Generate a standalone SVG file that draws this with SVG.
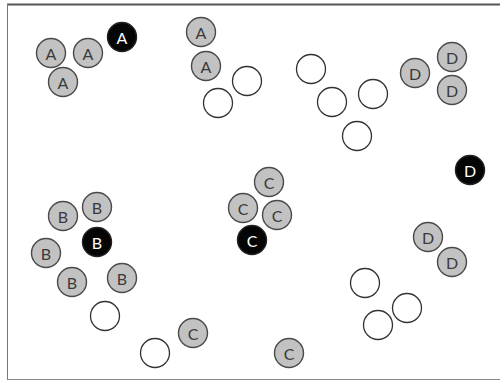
<svg xmlns="http://www.w3.org/2000/svg" width="500" height="381" viewBox="0 0 500 381">
<style>
.g{fill:#c2c2c2;stroke:#4a4a4a;stroke-width:1.4}
.b{fill:#050505;stroke:#222;stroke-width:1.4}
.w{fill:#fff;stroke:#333;stroke-width:1.3}
.t{font-family:Lato,"Open Sans","Liberation Sans",sans-serif;font-size:16px;text-anchor:middle;dominant-baseline:central;fill:#3a3a3a}
.tb{font-family:Lato,"Open Sans","Liberation Sans",sans-serif;font-size:16px;text-anchor:middle;dominant-baseline:central;fill:#fff}
</style>
<rect width="500" height="381" fill="#fff"/>
<g id="frame" fill="none">
<line x1="7" y1="4.5" x2="500" y2="4.5" stroke="#555" stroke-width="2"/>
<line x1="7.5" y1="4" x2="7.5" y2="380" stroke="#777" stroke-width="1"/>
<line x1="7" y1="379.5" x2="500" y2="379.5" stroke="#888" stroke-width="1.2"/>
</g>
<g id="connectors"></g>
<g id="nA1"><circle class="b" cx="122" cy="37" r="14.5"/><text class="tb" x="122" y="37">A</text></g>
<g id="nA2"><circle class="g" cx="51" cy="53" r="14.5"/><text class="t" x="51" y="53">A</text></g>
<g id="nA3"><circle class="g" cx="88" cy="53" r="14.5"/><text class="t" x="88" y="53">A</text></g>
<g id="nA4"><circle class="g" cx="63" cy="82" r="14.5"/><text class="t" x="63" y="82">A</text></g>
<g id="nA5"><circle class="g" cx="201" cy="32" r="14.5"/><text class="t" x="201" y="32">A</text></g>
<g id="nA6"><circle class="g" cx="206" cy="66" r="14.5"/><text class="t" x="206" y="66">A</text></g>
<g id="w1"><circle class="w" cx="247" cy="81" r="14.5"/></g>
<g id="w2"><circle class="w" cx="218" cy="103" r="14.5"/></g>
<g id="w3"><circle class="w" cx="311" cy="69" r="14.5"/></g>
<g id="w4"><circle class="w" cx="332" cy="102" r="14.5"/></g>
<g id="w5"><circle class="w" cx="373" cy="94" r="14.5"/></g>
<g id="w6"><circle class="w" cx="357" cy="136" r="14.5"/></g>
<g id="nD1"><circle class="g" cx="415" cy="73" r="14.5"/><text class="t" x="415" y="73">D</text></g>
<g id="nD2"><circle class="g" cx="452" cy="57" r="14.5"/><text class="t" x="452" y="57">D</text></g>
<g id="nD3"><circle class="g" cx="452" cy="90" r="14.5"/><text class="t" x="452" y="90">D</text></g>
<g id="nD4"><circle class="b" cx="470" cy="170" r="14.5"/><text class="tb" x="470" y="170">D</text></g>
<g id="nC1"><circle class="g" cx="269" cy="182" r="14.5"/><text class="t" x="269" y="182">C</text></g>
<g id="nC2"><circle class="g" cx="243" cy="208" r="14.5"/><text class="t" x="243" y="208">C</text></g>
<g id="nC3"><circle class="g" cx="277" cy="215" r="14.5"/><text class="t" x="277" y="215">C</text></g>
<g id="nC4"><circle class="b" cx="252" cy="240" r="14.5"/><text class="tb" x="252" y="240">C</text></g>
<g id="nB1"><circle class="g" cx="63" cy="216" r="14.5"/><text class="t" x="63" y="216">B</text></g>
<g id="nB2"><circle class="g" cx="97" cy="207" r="14.5"/><text class="t" x="97" y="207">B</text></g>
<g id="nB3"><circle class="b" cx="97" cy="242" r="14.5"/><text class="tb" x="97" y="242">B</text></g>
<g id="nB4"><circle class="g" cx="46" cy="253" r="14.5"/><text class="t" x="46" y="253">B</text></g>
<g id="nB5"><circle class="g" cx="72" cy="282" r="14.5"/><text class="t" x="72" y="282">B</text></g>
<g id="nB6"><circle class="g" cx="122" cy="278" r="14.5"/><text class="t" x="122" y="278">B</text></g>
<g id="w7"><circle class="w" cx="105" cy="316" r="14.5"/></g>
<g id="w8"><circle class="w" cx="155" cy="353" r="14.5"/></g>
<g id="nC5"><circle class="g" cx="193" cy="333" r="14.5"/><text class="t" x="193" y="333">C</text></g>
<g id="nC6"><circle class="g" cx="289" cy="353" r="14.5"/><text class="t" x="289" y="353">C</text></g>
<g id="nD5"><circle class="g" cx="428" cy="237" r="14.5"/><text class="t" x="428" y="237">D</text></g>
<g id="nD6"><circle class="g" cx="452" cy="262" r="14.5"/><text class="t" x="452" y="262">D</text></g>
<g id="w9"><circle class="w" cx="365" cy="283" r="14.5"/></g>
<g id="w10"><circle class="w" cx="407" cy="308" r="14.5"/></g>
<g id="w11"><circle class="w" cx="378" cy="325" r="14.5"/></g>
</svg>
